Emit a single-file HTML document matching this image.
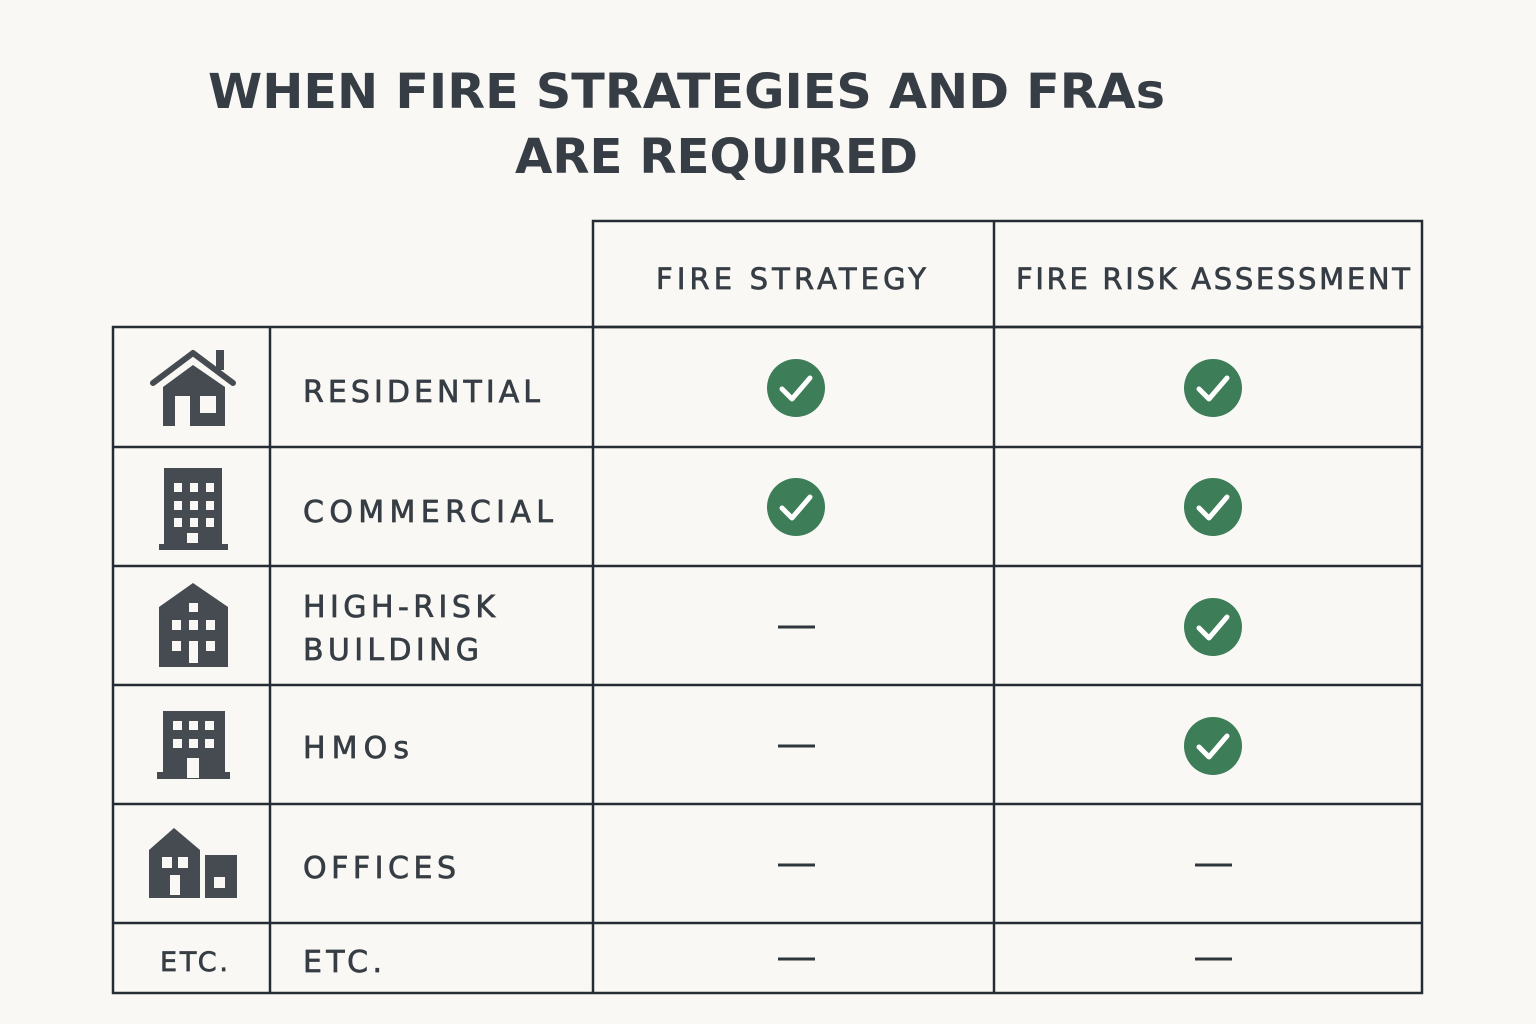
<!DOCTYPE html>
<html><head><meta charset="utf-8"><style>
html,body{margin:0;padding:0;background:#f9f8f4;}
svg{display:block;}
text{font-family:"DejaVu Sans","Liberation Sans",sans-serif;fill:#363d44;}
.lb{stroke:#363d44;stroke-width:0.7;}
</style></head><body>
<svg width="1536" height="1024" viewBox="0 0 1536 1024" xmlns="http://www.w3.org/2000/svg">
<rect width="1536" height="1024" fill="#f9f8f4"/>
<text x="208" y="108" font-size="48" font-weight="bold" textLength="957" lengthAdjust="spacingAndGlyphs">WHEN FIRE STRATEGIES AND FRAs</text>
<text x="515" y="173" font-size="48" font-weight="bold" textLength="403" lengthAdjust="spacingAndGlyphs">ARE REQUIRED</text>
<g stroke="#252c33" stroke-width="2.5" fill="none">
<rect x="593" y="221" width="829" height="106"/>
<line x1="994" y1="221" x2="994" y2="993"/>
<rect x="113" y="327" width="1309" height="666"/>
<line x1="270" y1="327" x2="270" y2="993"/>
<line x1="593" y1="327" x2="593" y2="993"/>
<line x1="113" y1="447" x2="1422" y2="447"/>
<line x1="113" y1="566" x2="1422" y2="566"/>
<line x1="113" y1="685" x2="1422" y2="685"/>
<line x1="113" y1="804" x2="1422" y2="804"/>
<line x1="113" y1="923" x2="1422" y2="923"/>
</g>
<g font-size="29" class="lb">
<text x="656" y="289" textLength="270" lengthAdjust="spacing">FIRE STRATEGY</text>
<text x="1016" y="289" textLength="394" lengthAdjust="spacing">FIRE RISK ASSESSMENT</text>
</g>
<g font-size="30" class="lb">
<text x="303" y="402" textLength="237" lengthAdjust="spacing">RESIDENTIAL</text>
<text x="303" y="522" textLength="250" lengthAdjust="spacing">COMMERCIAL</text>
<text x="303" y="617" textLength="192" lengthAdjust="spacing">HIGH-RISK</text>
<text x="303" y="660" textLength="176" lengthAdjust="spacing">BUILDING</text>
<text x="303" y="758" textLength="106" lengthAdjust="spacing">HMOs</text>
<text x="303" y="878" textLength="153" lengthAdjust="spacing">OFFICES</text>
<text x="303" y="972" textLength="79" lengthAdjust="spacing">ETC.</text>
<text x="160" y="971" font-size="27" textLength="68" lengthAdjust="spacing">ETC.</text>
</g>
<g fill="#454b50">
<!-- house -->
<path d="M153 383 L193 353 L233 383" stroke="#454b50" stroke-width="6" fill="none" stroke-linecap="round" stroke-linejoin="round"/>
<rect x="216" y="350" width="8" height="20"/>
<path d="M163 387 L193 365 L225 387 L225 426 L163 426Z"/>
<rect x="175" y="396" width="15" height="30" fill="#f9f8f4"/>
<rect x="200" y="396" width="16" height="17" fill="#f9f8f4"/>
<!-- commercial -->
<rect x="164" y="468" width="58" height="80"/>
<rect x="159" y="544" width="69" height="6"/>
<g fill="#f9f8f4">
<rect x="174" y="483" width="8" height="9"/><rect x="190" y="483" width="8" height="9"/><rect x="206" y="483" width="8" height="9"/>
<rect x="174" y="501" width="8" height="9"/><rect x="190" y="501" width="8" height="9"/><rect x="206" y="501" width="8" height="9"/>
<rect x="174" y="518" width="8" height="9"/><rect x="190" y="518" width="8" height="9"/><rect x="206" y="518" width="8" height="9"/>
<rect x="187" y="533" width="11" height="10"/>
</g>
<!-- high risk -->
<path d="M159 607 L193 583 L228 607 L228 667 L159 667Z"/>
<g fill="#f9f8f4">
<rect x="189" y="603" width="9" height="9"/>
<rect x="172" y="620" width="9" height="10"/><rect x="189" y="620" width="9" height="10"/><rect x="206" y="620" width="9" height="10"/>
<rect x="172" y="641" width="9" height="10"/><rect x="206" y="641" width="9" height="10"/>
<rect x="189" y="641" width="9" height="22"/>
</g>
<!-- HMO -->
<rect x="163" y="711" width="62" height="63"/>
<rect x="157" y="772" width="73" height="7"/>
<g fill="#f9f8f4">
<rect x="173" y="721" width="9" height="9"/><rect x="189" y="721" width="9" height="9"/><rect x="205" y="721" width="9" height="9"/>
<rect x="173" y="739" width="9" height="9"/><rect x="189" y="739" width="9" height="9"/><rect x="205" y="739" width="9" height="9"/>
<rect x="187" y="758" width="12" height="20"/>
</g>
<!-- offices -->
<path d="M149 850 L174 828 L200 850 L200 898 L149 898Z"/>
<rect x="205" y="855" width="32" height="43"/>
<g fill="#f9f8f4">
<rect x="162" y="857" width="10" height="11"/><rect x="178" y="857" width="10" height="11"/>
<rect x="170" y="875" width="10" height="20"/>
<rect x="214" y="877" width="11" height="11"/>
</g>
</g>
<!-- checks -->
<g>
<g id="ck"><circle cx="796" cy="388" r="29" fill="#3d7d58"/><path d="M782 389 L792 399 L810 378" stroke="#fff" stroke-width="5" fill="none" stroke-linecap="round" stroke-linejoin="round"/></g>
<use href="#ck" x="417" y="0"/>
<use href="#ck" x="0" y="119"/>
<use href="#ck" x="417" y="119"/>
<use href="#ck" x="417" y="239"/>
<use href="#ck" x="417" y="358"/>
</g>
<g stroke="#2f363c" stroke-width="3">
<line x1="778" y1="627" x2="815" y2="627"/>
<line x1="778" y1="746" x2="815" y2="746"/>
<line x1="778" y1="865" x2="815" y2="865"/>
<line x1="1195" y1="865" x2="1232" y2="865"/>
<line x1="778" y1="959" x2="815" y2="959"/>
<line x1="1195" y1="959" x2="1232" y2="959"/>
</g>
</svg>
</body></html>
